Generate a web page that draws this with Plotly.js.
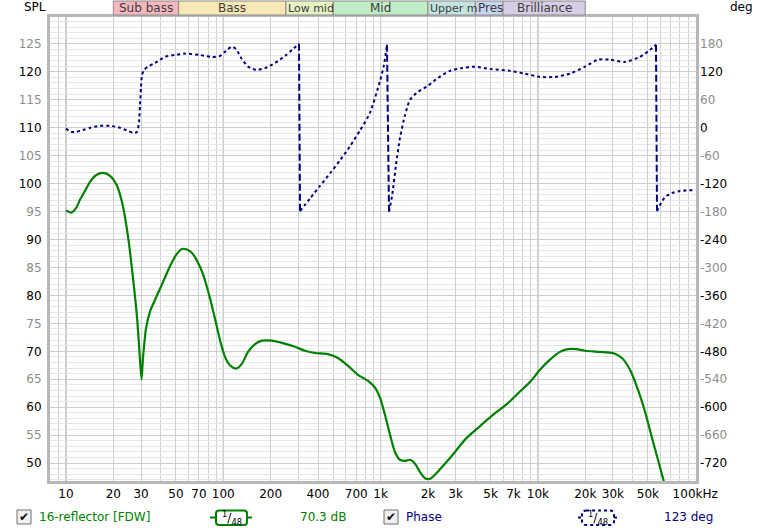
<!DOCTYPE html>
<html><head><meta charset="utf-8">
<script src="https://cdn.plot.ly/plotly-3.0.1.min.js"></script>
<style>html,body{margin:0;padding:0;background:#fff}</style>
</head><body><div id="chart" style="width:760px;height:532px"></div>
<script>
// ---- data ----
const splFreq = [10.0,10.76,11.58,12.27,13.21,14.21,15.51,17.19,19.05,21.1,23.0,24.8,26.7,28.3,29.3,30.2,30.9,32.3,34.2,36.8,39.6,42.6,45.8,50.0,54.6,58.8,63.2,68.1,74.3,82.3,88.6,95.3,102.5,110.3,120.4,131.5,143.6,159.1,176.2,204,236,286,331,383,463,536,621,718,832,921,991,1067,1148,1234,1328,1429,1538,1655,1781,1916,2062,2250,2567,2972,3440,4161,5108,6364,7696,8908,10310,11940,13820,15540,17470,19930,24820,30020,34230,38500,43300,47970,53140,58000,63340];
const splDb = [95.2,94.8,95.6,97.1,98.7,100.3,101.5,101.9,101.4,99.6,96.0,90.5,83.0,76.0,70.0,65.0,69.0,74.2,77.1,79.2,81.2,83.2,85.2,87.2,88.3,88.2,87.6,86.2,83.8,79.5,75.8,72.0,69.0,67.5,66.9,67.8,69.9,71.3,71.9,71.9,71.5,70.8,70.1,69.7,69.5,68.8,67.4,65.8,64.7,63.5,61.7,58.6,55.1,52.0,50.6,50.4,50.6,49.9,48.4,47.3,47.2,48.1,49.9,52.0,54.2,56.3,58.5,60.6,62.8,64.5,66.7,68.5,69.9,70.4,70.4,70.1,69.9,69.7,68.8,66.7,63.1,59.2,54.5,50.6,46.6];

const phaseFreq = [10.0,10.76,11.58,12.83,14.21,16.45,19.05,22.05,24.8,27.06,28.3,29.12,29.54,29.98,30.42,31.32,33.21,36.8,42.6,49.3,57.1,71.1,84.8,95.3,104.0,113.6,120.4,129.6,143.6,161.4,184.1,213.2,246.7,277.4,302.9,307.4,355.8,411.9,476.8,552,639,739.6,856,991,1051,1098,1131,1182,1253,1328,1429,1538,1729,2001,2317,2762,3292,3983,4961,6646,8279,10310,12850,16000,19930,24110,28730,35790,44590,51610,56340,57180,59740,64270,71210,80080,96830];
const phaseDeg = [-2,-9,-9,-5,0,4,4,0,-7,-11,-9,12,49,85,113,124,131,139,152,156,159,156,152,154,165,174,169,150,131,124,128,139,154,169,180,-179,-152,-125,-98,-70,-40,-6,32,100,135,178,-180,-147,-80,-22,27,60,77,90,107,122,128,131,126,122,116,109,109,116,131,146,146,141,152,167,178,-179,-166,-149,-140,-136,-134];

const xTickVals = [10,20,30,50,70,100,200,400,700,1000,2000,3000,5000,7000,10000,20000,30000,50000,100000];
const xTickText = ['10','20','30','50','70','100','200','400','700','1k','2k','3k','5k','7k','10k','20k','30k','50k','100kHz'];
const splTickVals = [50,55,60,65,70,75,80,85,90,95,100,105,110,115,120,125];
const phaseTickVals = [-720,-660,-600,-540,-480,-420,-360,-300,-240,-180,-120,-60,0,60,120,180];
const decades = [10,100,1000,10000];

const bandNames = ['Sub bass','Bass','Low mid','Mid','Upper m','Pres','Brilliance'];
const bandLo = [20,52,250,500,2000,4000,6000];
const bandHi = [52,250,500,2000,4000,6000,20000];
const bandColors = ['#f6b8bf','#f8e8b8','#e4f2c4','#c2ecc6','#c4e4e2','#c8d4f0','#d6cce4'];
const bandAlign = ['center','center','left','center','left','left','center'];
const bandFontSize = [12,12,11,12,11,12,12];

const splName = '16-reflector [FDW]';
const phaseName = 'Phase';
const splReadout = '70.3 dB';
const phaseReadout = '123 deg';
const smoothingText = '<sup>1</sup>/<sub>48</sub>';

// ---- geometry helpers (pixel -> paper) ----
const L = 50, R = 64, T = 17, B = 51, W = 760, H = 532;
const PW = W - L - R, PH = H - T - B;
const px = x => (x - L) / PW;
const py = y => (H - B - y) / PH;

const GREEN = '#008000', NAVY = '#000080', GREY_T = '#8c8c8c';
const FONT = 'DejaVu Sans, Verdana, sans-serif';

const minorVals = [];
for (let k = 0; k <= 4; k++) for (let n = 1; n <= 9; n++) {
  const v = n * Math.pow(10, k);
  if (v >= 8 && v <= 100000 && xTickVals.indexOf(v) < 0) minorVals.push(v);
}

const phX = [], phY = [], wrapX = [], wrapY = [];
for (let i = 0; i < phaseFreq.length; i++) {
  phX.push(phaseFreq[i]); phY.push(phaseDeg[i]);
  if (i < phaseFreq.length - 1 && Math.abs(phaseDeg[i + 1] - phaseDeg[i]) > 180) {
    phX.push(null); phY.push(null);
    wrapX.push(phaseFreq[i], phaseFreq[i + 1], null);
    wrapY.push(phaseDeg[i], phaseDeg[i + 1], null);
  }
}

const traces = [
  {x: splFreq, y: splDb, type: 'scatter', mode: 'lines', line: {color: GREEN, width: 2.2, shape: 'spline', smoothing: 0.7}, hoverinfo: 'skip', xaxis: 'x', yaxis: 'y'},
  {x: phX, y: phY, type: 'scatter', mode: 'lines', line: {color: NAVY, width: 2, dash: 'dot', shape: 'spline', smoothing: 0.6}, connectgaps: false, hoverinfo: 'skip', xaxis: 'x', yaxis: 'y2'},
  {x: wrapX, y: wrapY, type: 'scatter', mode: 'lines', line: {color: NAVY, width: 2, dash: '7px,3px'}, hoverinfo: 'skip', xaxis: 'x', yaxis: 'y2'}
];

const shapes = [];
decades.forEach(d => shapes.push({type: 'line', xref: 'x', yref: 'paper', x0: d, x1: d, y0: 0, y1: 1, layer: 'between', line: {color: '#8c8c8c', width: 1}}));
bandNames.forEach((n, i) => shapes.push({type: 'rect', xref: 'x', yref: 'paper', x0: bandLo[i], x1: bandHi[i], y0: py(15), y1: py(1), fillcolor: bandColors[i], line: {color: '#8a8a8a', width: 1}, layer: 'above'}));

function roundRect(x0, y0, x1, y1, r) {
  const rx = r / PW, ry = r / PH;
  const a = px(x0), b = px(x1), top = py(y0), bot = py(y1);
  return `M${a+rx},${top} L${b-rx},${top} Q${b},${top} ${b},${top-ry} L${b},${bot+ry} Q${b},${bot} ${b-rx},${bot} L${a+rx},${bot} Q${a},${bot} ${a},${bot+ry} L${a},${top-ry} Q${a},${top} ${a+rx},${top} Z`;
}
[[17, 510], [384, 510]].forEach(([x, y]) => {
  shapes.push({type: 'rect', xref: 'paper', yref: 'paper', x0: px(x), x1: px(x + 14), y0: py(y + 14), y1: py(y), fillcolor: '#f0f0f0', line: {color: '#6e6e6e', width: 1}});
});
shapes.push({type: 'line', xref: 'paper', yref: 'paper', x0: px(210), x1: px(252), y0: py(517.5), y1: py(517.5), line: {color: GREEN, width: 2}});
shapes.push({type: 'path', xref: 'paper', yref: 'paper', path: roundRect(216, 510.5, 247, 525, 3), fillcolor: '#ffffff', line: {color: GREEN, width: 2}});
shapes.push({type: 'line', xref: 'paper', yref: 'paper', x0: px(578), x1: px(619), y0: py(517.5), y1: py(517.5), line: {color: NAVY, width: 2, dash: 'dot'}});
shapes.push({type: 'path', xref: 'paper', yref: 'paper', path: roundRect(582, 510.5, 614, 525, 4), fillcolor: '#ffffff', line: {color: NAVY, width: 2, dash: 'dot'}});

const ann = [];
bandNames.forEach((n, i) => {
  const lo = Math.log10(bandLo[i]), hi = Math.log10(bandHi[i]);
  const centered = bandAlign[i] === 'center';
  ann.push({xref: 'x', yref: 'paper', x: centered ? (lo + hi) / 2 : lo, xanchor: centered ? 'center' : 'left', xshift: centered ? 0 : 0.5,
    y: py(8), yanchor: 'middle', text: n, showarrow: false, font: {family: FONT, size: bandFontSize[i], color: '#3c3c3c'}});
});
const addText = (x, y, text, color, anchor, size) => ann.push({xref: 'paper', yref: 'paper', x: px(x), y: py(y), xanchor: anchor, yanchor: 'middle', text, showarrow: false, font: {family: FONT, size: size || 12, color}});
addText(35, 7, 'SPL', '#000', 'center');
addText(741, 7, 'deg', '#000', 'center');
addText(24, 517, '✔', '#111', 'center', 12);
addText(391, 517, '✔', '#111', 'center', 12);
addText(37, 517, splName, GREEN, 'left');
addText(231.5, 517.5, smoothingText, '#000', 'center', 12);
addText(323, 517, splReadout, GREEN, 'center');
addText(404, 517, phaseName, NAVY, 'left');
addText(598, 517.5, smoothingText, '#000', 'center', 12);
addText(688, 517, phaseReadout, NAVY, 'center');

const splText = splTickVals.map(v => v % 10 === 0 ? String(v) : `<span style="color:${GREY_T}">${v}</span>`);
const phText = phaseTickVals.map(v => (Math.abs(v / 60) % 2 === 0) ? String(v) : `<span style="color:${GREY_T}">${v}</span>`);

const layout = {
  width: W, height: H,
  margin: {l: L, r: R, t: T, b: B, pad: 0},
  paper_bgcolor: '#fff', plot_bgcolor: '#fff',
  showlegend: false,
  font: {family: FONT, size: 12, color: '#000'},
  xaxis: {type: 'log', range: [0.8983, 5.0051], tickvals: xTickVals, ticktext: xTickText, ticks: '', showgrid: true, gridcolor: '#d0d0d0', gridwidth: 1,
    minor: {tickvals: minorVals, showgrid: true, gridcolor: '#d0d0d0', gridwidth: 1, ticks: ''},
    showline: true, linecolor: '#b8b8b8', linewidth: 3, mirror: true, zeroline: false, tickfont: {family: FONT, size: 12, color: '#000'}, fixedrange: true},
  yaxis: {range: [46.8, 129.8], tickvals: splTickVals, ticktext: splText, ticks: '', showgrid: true, gridcolor: '#cdcdcd', gridwidth: 1,
    minor: {dtick: 1, showgrid: true, gridcolor: '#e6e6e6', gridwidth: 1, ticks: ''},
    showline: true, linecolor: '#b8b8b8', linewidth: 3, mirror: true, zeroline: false, tickfont: {family: FONT, size: 12, color: '#000'}, ticklabelstandoff: 3, fixedrange: true},
  yaxis2: {overlaying: 'y', side: 'right', range: [-758.4, 237.6], tickvals: phaseTickVals, ticktext: phText, ticks: '', showgrid: false, zeroline: false,
    showline: false, tickfont: {family: FONT, size: 12, color: '#000'}, ticklabelstandoff: 3, fixedrange: true},
  shapes, annotations: ann
};

Plotly.newPlot('chart', traces, layout, {staticPlot: true, displayModeBar: false});
</script></body></html>
